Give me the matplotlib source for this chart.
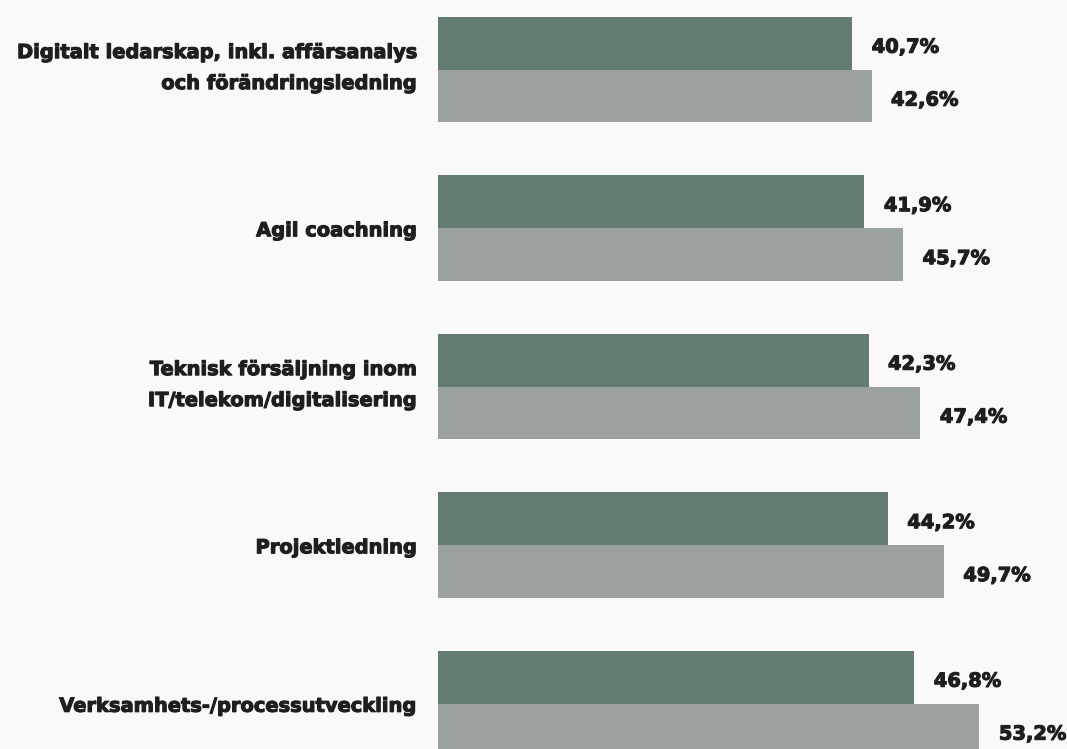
import numpy as np
import matplotlib.pyplot as plt
import matplotlib.patheffects as pe

categories = ["Digitalt ledarskap, inkl. affärsanalys\noch förändringsledning",
              "Agil coachning",
              "Teknisk försäljning inom\nIT/telekom/digitalisering",
              "Projektledning",
              "Verksamhets-/processutveckling"]
series_a = [40.7, 41.9, 42.3, 44.2, 46.8]
series_b = [42.6, 45.7, 47.4, 49.7, 53.2]

col_a = "#647c70"
col_b = "#9ba19e"
bg = "#f9f9f9"
txt = "#1e1e1e"

plt.rcParams['font.family'] = ['DejaVu Sans']
# thicken the bold glyphs a little
heavy = [pe.withStroke(linewidth=0.8, foreground=txt)]

fig = plt.figure(figsize=(10.67, 7.49), dpi=100, facecolor=bg)
ax = fig.add_axes([438/1067, 0, 629/1067, 1])
ax.set_facecolor(bg)

y = np.arange(len(categories))
h = 0.334
ax.barh(y - h/2, series_a, height=h, color=col_a)
ax.barh(y + h/2, series_b, height=h, color=col_b)

# value labels right of each bar
for pos, vals in ((y - h/2, series_a), (y + h/2, series_b)):
    for yy, v in zip(pos, vals):
        ax.annotate(f"{v:.1f}%".replace(".", ","), (v, yy), xytext=(14, -3),
                    textcoords="offset points", va="center", ha="left",
                    fontsize=14, fontweight="bold", color=txt, path_effects=heavy)

for yy, lab in zip(y, categories):
    dy = 1 if "\n" in lab else -2
    ax.annotate(lab, (0, yy), xytext=(-15, dy), textcoords="offset points",
                annotation_clip=False, va="center", ha="right", ma="right",
                fontsize=14, fontweight="bold", color=txt, linespacing=1.8,
                path_effects=heavy)

ax.set_xlim(0, 61.8)
ax.set_ylim(4.287, -0.4385)
ax.axis("off")

fig.savefig("out.png", dpi=100, facecolor=bg)
